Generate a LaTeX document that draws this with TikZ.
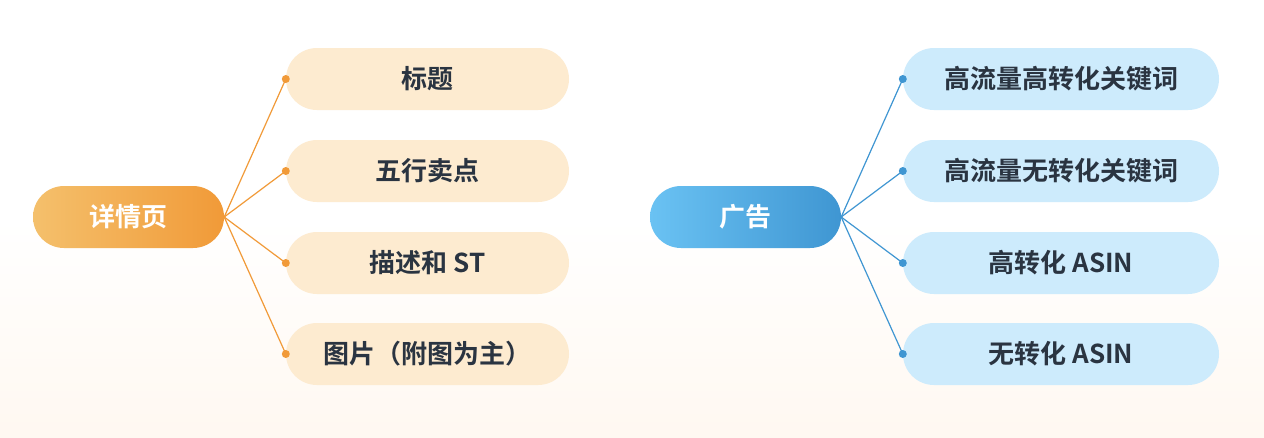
\documentclass[tikz,border=0pt]{standalone}
\usepackage{fontspec}
\setmainfont{Noto Sans CJK SC}[BoldFont={Noto Sans CJK SC Bold}]
\usepackage{xcolor}
\definecolor{orange_dark}{HTML}{F19A38}
\definecolor{orange_light}{HTML}{F4C06C}
\definecolor{orange_soft}{HTML}{FDEBD0}
\definecolor{blue_dark}{HTML}{3F96D2}
\definecolor{blue_light}{HTML}{6AC2F3}
\definecolor{blue_soft}{HTML}{CDEBFC}
\definecolor{text_dark}{HTML}{2A3441}
\definecolor{bg_bottom}{HTML}{FFF8F1}

\begin{document}
\begin{tikzpicture}[x=1pt,y=-1pt,
    rootbox/.style={minimum width=191pt, minimum height=62pt, rounded corners=31pt,
        text=white, font=\bfseries\fontsize{26}{30}\selectfont, inner sep=0pt},
    leafbox/.style={minimum height=62pt, rounded corners=31pt, text=text_dark,
        font=\bfseries\fontsize{26}{30}\selectfont, inner sep=0pt},
    knot/.style={circle, inner sep=0pt, minimum size=8pt}]

    % fond
    \shade[top color=white, bottom color=bg_bottom, middle color=white]
        (0,0) rectangle (1264,437);
    \useasboundingbox (0,0) rectangle (1264,437);

    % Les deux racines
    \node[rootbox, shading angle=-60, left color=orange_light, right color=orange_dark]
        (details) at (128.5,217) {详情页};
    \node[rootbox, shading angle=-60, left color=blue_light, right color=blue_dark]
        (ads) at (745.5,217) {广告};

    % Branches de gauche
    \node[leafbox, fill=orange_soft, minimum width=283pt] (title) at (427.5,79) {标题};
    \node[leafbox, fill=orange_soft, minimum width=283pt] (bullets) at (427.5,171) {五行卖点};
    \node[leafbox, fill=orange_soft, minimum width=283pt] (desc) at (427.5,263) {描述和 ST};
    \node[leafbox, fill=orange_soft, minimum width=283pt] (images) at (427.5,354) {图片（附图为主）};

    % Branches de droite
    \node[leafbox, fill=blue_soft, minimum width=316pt] (kwhigh) at (1061,79) {高流量高转化关键词};
    \node[leafbox, fill=blue_soft, minimum width=316pt] (kwnone) at (1061,171) {高流量无转化关键词};
    \node[leafbox, fill=blue_soft, minimum width=316pt] (asinhigh) at (1061,263) {高转化 ASIN};
    \node[leafbox, fill=blue_soft, minimum width=316pt] (asinnone) at (1061,354) {无转化 ASIN};

    % Points d'attache
    \node[knot, fill=orange_dark] (k1) at (title.west) {};
    \node[knot, fill=orange_dark] (k2) at (bullets.west) {};
    \node[knot, fill=orange_dark] (k3) at (desc.west) {};
    \node[knot, fill=orange_dark] (k4) at (images.west) {};
    \node[knot, fill=blue_dark] (k5) at (kwhigh.west) {};
    \node[knot, fill=blue_dark] (k6) at (kwnone.west) {};
    \node[knot, fill=blue_dark] (k7) at (asinhigh.west) {};
    \node[knot, fill=blue_dark] (k8) at (asinnone.west) {};

    % Liaisons
    \draw[orange_dark, line width=1.2pt] (details.east) -- (k1.center);
    \draw[orange_dark, line width=1.2pt] (details.east) -- (k2.center);
    \draw[orange_dark, line width=1.2pt] (details.east) -- (k3.center);
    \draw[orange_dark, line width=1.2pt] (details.east) -- (k4.center);
    \draw[blue_dark, line width=1.2pt] (ads.east) -- (k5.center);
    \draw[blue_dark, line width=1.2pt] (ads.east) -- (k6.center);
    \draw[blue_dark, line width=1.2pt] (ads.east) -- (k7.center);
    \draw[blue_dark, line width=1.2pt] (ads.east) -- (k8.center);
\end{tikzpicture}
\end{document}
